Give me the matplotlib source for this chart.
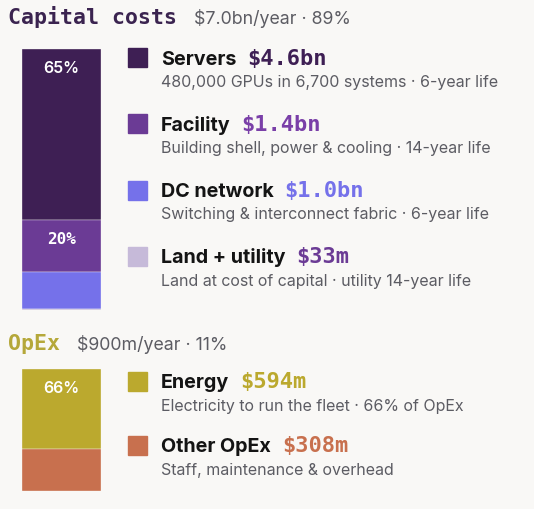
import matplotlib
matplotlib.use("Agg")
import matplotlib.pyplot as plt
from matplotlib.patches import Rectangle

# ---- data ----
cap_title = "Capital costs"
cap_summary = "$7.0bn/year · 89%"
cap_names = ["Servers", "Facility", "DC network", "Land + utility"]
cap_amounts = ["$4.6bn", "$1.4bn", "$1.0bn", "$33m"]
cap_values = [4.6, 1.4, 1.0, 0.033]
cap_pcts = ["65%", "20%", "", ""]
cap_notes = [
    "480,000 GPUs in 6,700 systems · 6-year life",
    "Building shell, power & cooling · 14-year life",
    "Switching & interconnect fabric · 6-year life",
    "Land at cost of capital · utility 14-year life",
]
cap_colors = ["#3e1f54", "#6b3b95", "#7571ea", "#c6bad9"]
cap_amount_colors = ["#3e1f54", "#7a3fa8", "#7571ea", "#6b3b95"]

opex_title = "OpEx"
opex_summary = "$900m/year · 11%"
opex_names = ["Energy", "Other OpEx"]
opex_amounts = ["$594m", "$308m"]
opex_values = [594, 308]
opex_pcts = ["66%", ""]
opex_notes = [
    "Electricity to run the fleet · 66% of OpEx",
    "Staff, maintenance & overhead",
]
opex_colors = ["#bba92e", "#c8704e"]

BG = "#f9f8f6"
GREY = "#5c5c63"
INK = "#141414"
SANS = "Inter"
MONO = "DejaVu Sans Mono"
W, H = 534, 510

fig = plt.figure(figsize=(W / 100, H / 100), dpi=100, facecolor=BG)
ov = fig.add_axes([0, 0, 1, 1], zorder=0)
ov.set_xlim(0, W)
ov.set_ylim(H, 0)
ov.axis("off")
ov.set_facecolor(BG)


def stacked_bar(top, bottom, values, colors, pcts, pct_fonts):
    ax = fig.add_axes([22 / W, 1 - bottom / H, 79 / W, (bottom - top) / H], zorder=2)
    total = sum(values)
    cum = 0
    for v, c, p, fnt in zip(values, colors, pcts, pct_fonts):
        ax.bar(0, v, bottom=cum, width=1, color=c, edgecolor=BG, linewidth=0.25)
        if p:
            ax.annotate(p, (0, cum), xytext=(0, -18.5), textcoords="offset pixels",
                        ha="center", va="center", color="white", fontsize=11.5,
                        family=fnt, fontweight="bold" if fnt == MONO else "semibold")
        cum += v
    ax.set_xlim(-0.5, 0.5)
    ax.set_ylim(total, 0)
    ax.axis("off")
    return ax


def header(y, title, color, summary):
    t = ov.text(8, y, title, family=MONO, fontweight="bold",
                fontsize=15.5, color=color, va="baseline")
    fig.canvas.draw()
    r = fig.canvas.get_renderer()
    bb = t.get_window_extent(r)
    ov.text(bb.x1 + 17, y, summary, family=SANS, fontsize=12.8, color=GREY,
            va="baseline")


def rows(top0, step, names, amounts, notes, colors, amount_colors):
    r = fig.canvas.get_renderer()
    for i, (n, a, note, c, ac) in enumerate(zip(names, amounts, notes, colors, amount_colors)):
        top = top0 + step * i
        ov.add_patch(Rectangle((128, top), 19, 19, color=c))
        t = ov.text(161, top + 15.5, n, family=SANS, fontweight="bold",
                    fontsize=14.2, color=INK, va="baseline")
        bb = t.get_window_extent(r)
        ov.text(bb.x1 + 11, top + 15.5, a, family=MONO,
                fontweight="bold", fontsize=15.8, color=ac, va="baseline")
        ov.text(161, top + 38, note, family=SANS, fontsize=11.5, color=GREY,
                va="baseline")


header(24, cap_title, "#3b2450", cap_summary)
stacked_bar(49.5, 311, cap_values, cap_colors, cap_pcts,
            [SANS, MONO, SANS, SANS])
rows(49.3, 66.1, cap_names, cap_amounts, cap_notes, cap_colors, cap_amount_colors)

header(350, opex_title, "#b5a83a", opex_summary)
stacked_bar(370, 492, opex_values, opex_colors, opex_pcts, [SANS, SANS])
rows(372.7, 64, opex_names, opex_amounts, opex_notes, opex_colors, opex_colors)

fig.savefig("out.png", dpi=100, facecolor=BG)
